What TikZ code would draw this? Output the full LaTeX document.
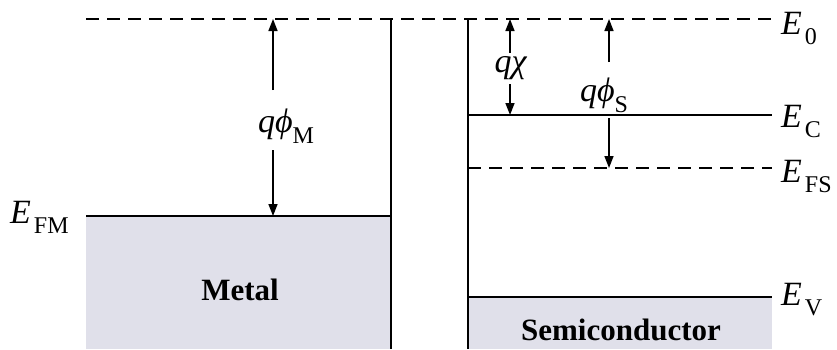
\documentclass[tikz,border=0pt]{standalone}
\usepackage{fontspec}
\setmainfont{Liberation Serif}
\usetikzlibrary{arrows.meta}
\definecolor{fillc}{RGB}{224,224,234}
\newcommand{\En}[1]{\fontsize{34}{34}\selectfont\textit{E}\hspace{3pt}\raisebox{-10pt}{\fontsize{24}{24}\selectfont #1}}
\newcommand{\bigf}{\fontsize{34}{34}\selectfont}
\newcommand{\subf}{\fontsize{24}{24}\selectfont}
\begin{document}
\begin{tikzpicture}[x=1pt,y=-1pt,
  level/.style={line width=1.8pt},
  dlevel/.style={line width=1.8pt,dash pattern=on 13pt off 8pt},
  wall/.style={line width=1.5pt},
  arr/.style={line width=1.5pt,-{Triangle[length=12pt,width=9pt]}},
  lbl/.style={inner sep=0pt,anchor=base west},
  mat/.style={inner sep=0pt,anchor=base,font=\bfseries\fontsize{31}{31}\selectfont}]
\useasboundingbox (0,0) rectangle (837,349);
% fills
\fill[fillc] (86,216) rectangle (391,349);
\fill[fillc] (468,297) rectangle (772,349);
% coordinates
\coordinate (e0l) at (86,19);
\coordinate (e0r) at (772,19);
\coordinate (w1t) at (391,19);
\coordinate (w1b) at (391,349);
\coordinate (w2t) at (468,19);
\coordinate (w2b) at (468,349);
\coordinate (fml) at (86,216);
\coordinate (fmr) at (391,216);
\coordinate (ecl) at (468,115);
\coordinate (ecr) at (772,115);
\coordinate (efl) at (468,168);
\coordinate (efr) at (772,168);
\coordinate (evl) at (468,297);
\coordinate (evr) at (772,297);
% levels
\draw[dlevel] (e0l) -- (e0r);
\draw[wall] (w1t) -- (w1b);
\draw[wall] (w2t) -- (w2b);
\draw[level] (fml) -- (fmr);
\draw[level] (ecl) -- (ecr);
\draw[dlevel] (efl) -- (efr);
\draw[level] (evl) -- (evr);
% labels
\node[lbl] (lE0) at (781,34) {\En{0}};
\node[lbl] (lEC) at (781,127) {\En{C}};
\node[lbl] (lEFS) at (781,182) {\En{FS}};
\node[lbl] (lEV) at (781,305) {\En{V}};
\node[lbl] (lEFM) at (10,223) {\En{FM}};
% work functions
\node[inner sep=0pt,anchor=base] (phim) at (286,132) {\bigf\textit{q\symbol{"03D5}}\raisebox{-11pt}{\subf M}};
\coordinate (am1) at (273,19);
\coordinate (am2) at (273,216);
\draw[arr] (273,90) -- (am1);
\draw[arr] (273,150) -- (am2);
\node[inner sep=0pt,anchor=base] (chi) at (511,72) {\bigf\textit{q\symbol{"03C7}}};
\coordinate (ac1) at (510,19);
\coordinate (ac2) at (510,115);
\draw[arr] (510,53) -- (ac1);
\draw[arr] (510,84) -- (ac2);
\node[inner sep=0pt,anchor=base] (phis) at (604,101) {\bigf\textit{q\symbol{"03D5}}\raisebox{-11pt}{\subf S}};
\coordinate (as1) at (609,19);
\coordinate (as2) at (609,168);
\draw[arr] (609,62) -- (as1);
\draw[arr] (609,118) -- (as2);
% material names
\node[mat] (metal) at (240,300) {Metal};
\node[mat] (semi) at (621,340) {Semiconductor};
\end{tikzpicture}
\end{document}
